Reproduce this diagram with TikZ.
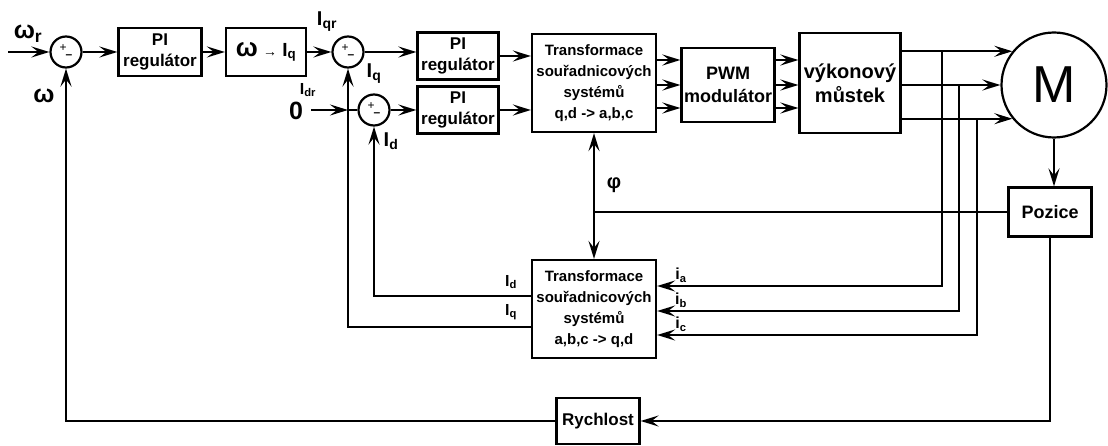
\documentclass[tikz,border=0pt]{standalone}
\usepackage{fontspec}
\setmainfont{Liberation Sans}
\usetikzlibrary{arrows.meta}
\newcommand{\fsz}[1]{\fontsize{#1}{#1}\selectfont}
\newcommand{\sumsg}{{\fsz{12}\raisebox{1pt}{+}\hspace{-1pt}\raisebox{-6pt}{\bfseries –}}}
\begin{document}
\begin{tikzpicture}[x=1pt,y=-1pt,line width=2.2pt,
  blok/.style 2 args={draw,align=center,inner sep=1pt,font=\bfseries\fontsize{#1}{#2}\selectfont},
  sumc/.style={draw,circle,minimum size=31pt,inner sep=0pt},
  arr/.style={-{Stealth[length=18pt,width=11pt,inset=7pt]}},
  arr2/.style={{Stealth[length=18pt,width=11pt,inset=7pt]}-{Stealth[length=18pt,width=11pt,inset=7pt]}},
  lbl/.style={inner sep=0pt,font=\bfseries\fsz{#1}}]
\useasboundingbox (0,0) rectangle (1108,446);
\node[sumc] (s1) at (66,52) {\sumsg};
\node[blok={17}{21},minimum width=83pt,minimum height=48pt] (pi1) at (160,52) {PI\\regulátor};
\node[blok={19}{19},minimum width=80pt,minimum height=48pt] (conv) at (266,52) {{\fsz{26}ω} {\fsz{14}→} I\textsubscript{q}};
\node[sumc] (s2) at (348,52) {\sumsg};
\node[sumc] (s3) at (374,110) {\sumsg};
\node[blok={17}{21},minimum width=81pt,minimum height=47pt] (piq) at (458,56) {PI\\regulátor};
\node[blok={17}{21},minimum width=81pt,minimum height=47pt] (pid) at (458,110) {PI\\regulátor};
\node[blok={15}{21},minimum width=124pt,minimum height=98pt] (tr1) at (594,83) {Transformace\\souřadnicových\\systémů\\q,d -> a,b,c};
\node[blok={18}{23},minimum width=93pt,minimum height=74pt] (pwm) at (728,85) {PWM\\modulátor};
\node[blok={20}{24},minimum width=101pt,minimum height=100pt] (most) at (850,83) {výkonový\\můstek};
\node[draw,circle,minimum size=105pt,inner sep=0pt,font=\fsz{52}] (mot) at (1054,85) {M};
\node[blok={18}{18},minimum width=83pt,minimum height=49pt] (poz) at (1050,212) {Pozice};
\node[blok={15}{21},minimum width=124pt,minimum height=98pt] (tr2) at (594,309) {Transformace\\souřadnicových\\systémů\\a,b,c -> q,d};
\node[blok={17}{17},minimum width=83pt,minimum height=46pt] (rych) at (598,421) {Rychlost};
\node[lbl=25] (lwr) at (28,34) {ω\textsubscript{r}};
\node[lbl=25] (lw) at (44,96) {ω};
\node[lbl=20] (liqr) at (327,22) {I\textsubscript{qr}};
\node[lbl=20] (liq) at (374,74) {I\textsubscript{q}};
\node[lbl=25] (lzero) at (296,111) {0};
\node[lbl=16] (lidr) at (308,90) {I\textsubscript{dr}};
\node[lbl=20] (lid) at (391,141) {I\textsubscript{d}};
\node[lbl=20] (lphi) at (614,185) {φ};
\node[lbl=16] (lid2) at (511,282) {I\textsubscript{d}};
\node[lbl=16] (liq2) at (511,312) {I\textsubscript{q}};
\node[lbl=16] (lia) at (681,275) {i\textsubscript{a}};
\node[lbl=16] (lib) at (681,300) {i\textsubscript{b}};
\node[lbl=16] (lic) at (681,324) {i\textsubscript{c}};
\coordinate (win) at (8,52);
\coordinate (w0) at (311,110);
\draw[arr] (win) -- (s1);\draw[arr] (s1) -- (pi1);\draw[arr] (pi1) -- (conv);\draw[arr] (conv) -- (s2);
\draw[arr] (w0) -- (s2 |- s3);\draw (s2 |- s3) -- (s3);
\draw[arr] (s2) -- (s2 -| piq.west);\draw[arr] (s3) -- (pid);
\draw[arr] (piq) -- (piq -| tr1.west);\draw[arr] (pid) -- (pid -| tr1.west);
\foreach \y in {60,85,108} {\draw[arr] (tr1.east |- 0,\y) -- (pwm.west |- 0,\y);\draw[arr] (pwm.east |- 0,\y) -- (most.west |- 0,\y);}
\foreach \p in {141,180,219} \draw[arr] (most.east |- mot.\p) -- (mot.\p);
\foreach \x/\p/\y in {942/141/286,959/180/311,977/219/335} \draw[arr] (\x,0 |- mot.\p) -- (\x,\y) -- (tr2.east |- 0,\y);
\draw[arr] (tr2.west |- 0,296) -| (s3.south);
\draw[arr] (tr2.west |- 0,327) -| (s2.south);
\draw[arr] (mot.south) -- (mot.south |- poz.north);
\draw (poz.west) -- (poz.west -| tr1.south);
\draw[arr2] (tr1.south) -- (tr2.north);
\draw[arr] (poz.south) |- (rych.east);
\draw[arr] (rych.west) -| (s1.south);
\end{tikzpicture}
\end{document}
